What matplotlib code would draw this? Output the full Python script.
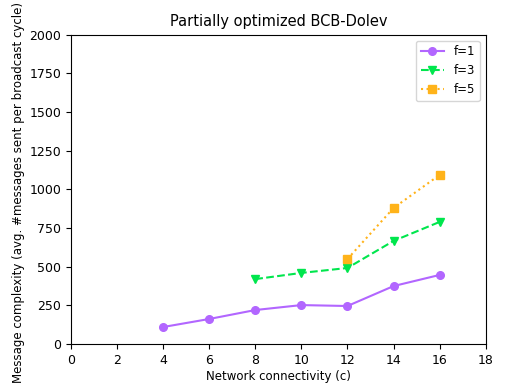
import matplotlib
matplotlib.use("Agg")
import matplotlib.pyplot as plt

# Data
conn_f1 = [4, 6, 8, 10, 12, 14, 16]
msgs_f1 = [110, 162, 220, 252, 246, 375, 447]
conn_f3 = [8, 10, 12, 14, 16]
msgs_f3 = [420, 460, 492, 667, 790]
conn_f5 = [12, 14, 16]
msgs_f5 = [550, 880, 1094]

fig = plt.figure(figsize=(5.06, 3.87), dpi=100)
ax = fig.add_axes([0.140, 0.111, 0.820, 0.799])

ax.plot(conn_f1, msgs_f1, color='#b266ff', marker='o', markersize=5.5, linestyle='-', label='f=1')
ax.plot(conn_f3, msgs_f3, color='#00e64d', marker='v', markersize=5.5, linestyle='--', label='f=3')
ax.plot(conn_f5, msgs_f5, color='#ffb31a', marker='s', markersize=5.5, linestyle=':', label='f=5')

ax.set_xlim(0, 18)
ax.set_ylim(0, 2000)
ax.set_xticks(range(0, 19, 2))
ax.set_yticks(range(0, 2001, 250))
ax.tick_params(labelsize=9)
ax.set_title("Partially optimized BCB-Dolev", fontsize=10.5)
ax.set_xlabel("Network connectivity (c)", fontsize=8.5, labelpad=2)
ax.set_ylabel("Message complexity (avg. #messages sent per broadcast cycle)", fontsize=8.5, labelpad=3)
ax.yaxis.label.set_y(0.49)
ax.legend(loc='upper right', fontsize=8.5)

fig.savefig("out.png", dpi=100)
